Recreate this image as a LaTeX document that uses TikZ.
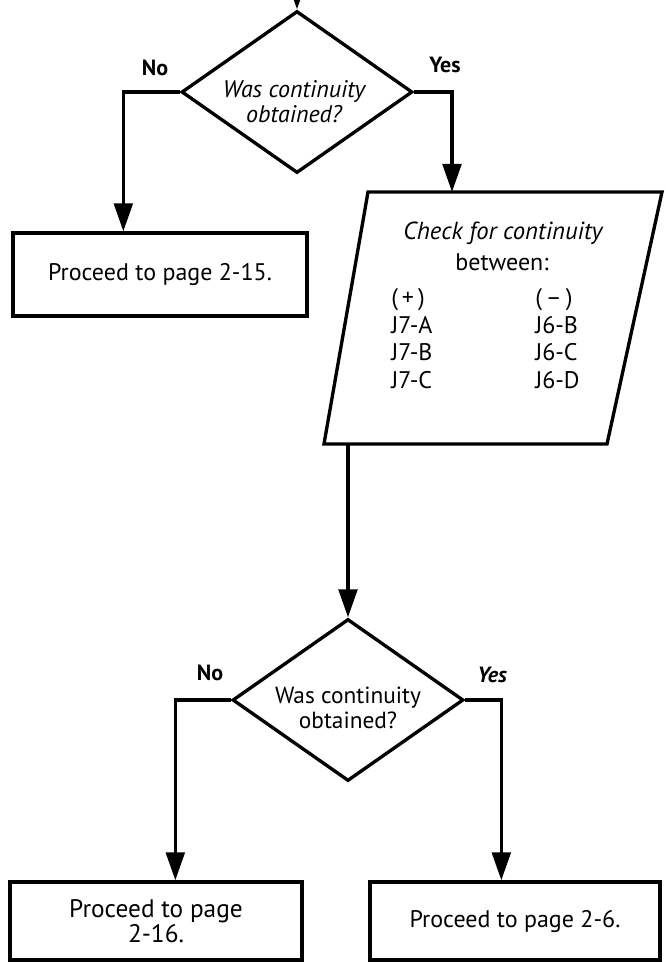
\documentclass[tikz,border=0pt]{standalone}
\usepackage{fontspec}
\setmainfont{PT Sans}
\usetikzlibrary{shapes.geometric,arrows.meta,calc}
\begin{document}
\begin{tikzpicture}[x=0.75pt,y=-0.75pt,
  flow/.style={line width=2.5pt},
  conn/.style={flow,-{Triangle[length=21pt,width=14pt]}},
  decision/.style={draw,flow,diamond,shape aspect=1.43,minimum width=173.25pt,
    minimum height=121.5pt,inner sep=0pt},
  qtext/.style={inner sep=0pt,align=center,font=\fontsize{17.5}{18.75}\selectfont},
  procbox/.style={draw,flow,rectangle,inner sep=0pt,align=center,
    font=\fontsize{18}{17.5}\selectfont},
  ptext/.style={inner sep=0pt,font=\fontsize{18}{20}\selectfont},
  branch/.style={inner sep=0pt,font=\fontsize{16.5}{18}\selectfont\bfseries},
]
\clip (0,0) rectangle (665,962);
\fill[white] (0,0) rectangle (665,962);

% first decision
\coordinate (entry) at (297,-30);
\node[decision] (d1) at (297,92) {};
\node[qtext,font=\fontsize{18}{18.75}\selectfont\itshape] (d1q) at ($(d1.center)+(-3,10)$) {Was continuity\\obtained?};
\draw[conn] (entry) -- (d1.north);
\node[branch] (no1) at (155,68) {No};
\node[branch] (yes1) at (445,65) {Yes};

% left outcome
\node[procbox,minimum width=220.5pt,minimum height=62.25pt] (b1) at (160,274.5) {Proceed to page 2-15.};
\draw[conn] (d1.west) -| ($(b1.north west)+(112,0)$);

% parallelogram with the check list
\coordinate (pTL) at (368,192);
\coordinate (pTR) at (662,192);
\coordinate (pBR) at (607,444);
\coordinate (pBL) at (324,444);
\draw[flow,line join=miter] (pTL) -- (pTR) -- (pBR) -- (pBL) -- cycle;
\coordinate (pIn) at (452,192);
\coordinate (pOut) at (348,444);
\draw[conn] (d1.east) -| (pIn);

\node[ptext,font=\fontsize{18.5}{20}\selectfont\itshape] (chk) at (503,233) {Check for continuity};
\node[ptext] (btw) at (502,262) {between:};
\foreach \t/\u [count=\i] in {{(\,+\,)}/{(\,--\,)},J7-A/J6-B,J7-B/J6-C,J7-C/J6-D}{
  \node[ptext,anchor=base west] (pl\i) at (391,{305.5+27.7*(\i-1)}) {\t};
  \node[ptext,anchor=base west] (pr\i) at (535,{305.5+27.7*(\i-1)}) {\u};
}

% second decision
\node[decision] (d2) at (348,700) {};
\node[qtext] (d2q) at ($(d2.center)+(0,8)$) {Was continuity\\obtained?};
\draw[conn] (pOut) -- (d2.north);
\node[branch] (no2) at (210,673) {No};
\node[branch,font=\fontsize{16.5}{18}\selectfont\bfseries\itshape] (yes2) at (492,675) {Yes};

% final outcomes
\node[procbox,minimum width=219pt,minimum height=58.5pt,font=\fontsize{19}{17.5}\selectfont] (b2) at (156,921) {Proceed to page\\2-16.};
\node[procbox,minimum width=217.5pt,minimum height=58.5pt] (b3) at (515,921) {Proceed to page 2-6.};
\draw[conn] (d2.west) -| ($(b2.north west)+(167,0)$);
\draw[conn] (d2.east) -| ($(b3.north west)+(133,0)$);
\end{tikzpicture}
\end{document}
